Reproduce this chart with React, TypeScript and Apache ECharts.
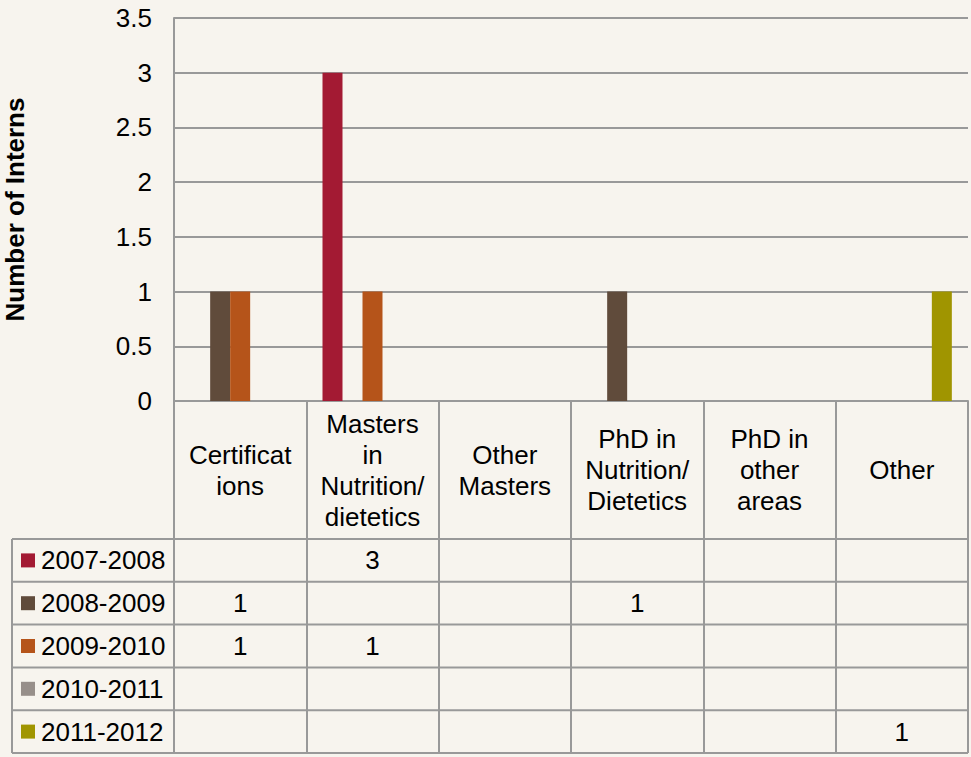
import React, { useEffect, useRef } from "react";
import * as echarts from "echarts";

const categories = [
  "Certificat\nions",
  "Masters\nin\nNutrition/\ndietetics",
  "Other\nMasters",
  "PhD in\nNutrition/\nDietetics",
  "PhD in\nother\nareas",
  "Other",
];
const seriesNames = ["2007-2008", "2008-2009", "2009-2010", "2010-2011", "2011-2012"];
const s2007 = [null, 3, null, null, null, null];
const s2008 = [1, null, null, 1, null, null];
const s2009 = [1, 1, null, null, null, null];
const s2010 = [null, null, null, null, null, null];
const s2011 = [null, null, null, null, null, 1];
const seriesValues = [s2007, s2008, s2009, s2010, s2011];
const colors = ["#A31A33", "#604B3B", "#B5541A", "#978F8A", "#A09500"];
const yTicks = [0, 0.5, 1, 1.5, 2, 2.5, 3, 3.5];

const FONT = "'Liberation Sans', Arial, sans-serif";
const BG = "#F7F4EE";
const LINE = "#999999";
const FS = 26;

export default function App() {
  const ref = useRef<HTMLDivElement>(null);
  useEffect(() => {
    if (!ref.current) return;
    const chart = echarts.init(ref.current, null, { renderer: "svg" });
    const W = 971;
    const gridLeft = 174;
    const gridRight = 3;
    const gridTop = 18;
    const axisY = 401;
    const headerBottom = 539;
    const tableBottom = 753;
    const rowH = (tableBottom - headerBottom) / seriesNames.length;
    const legendLeft = 12;

    chart.setOption({
      animation: false,
      backgroundColor: BG,
      textStyle: { fontFamily: FONT },
      grid: {
        left: gridLeft,
        right: gridRight,
        top: gridTop,
        bottom: 757 - axisY,
        containLabel: false,
        outerBoundsMode: "none",
      },
      xAxis: {
        type: "category",
        data: categories,
        boundaryGap: true,
        axisLine: { show: true, lineStyle: { color: LINE, width: 2 } },
        axisTick: { show: true, interval: 0, length: tableBottom - axisY, lineStyle: { color: LINE, width: 2 } },
        axisLabel: {
          interval: 0,
          fontSize: FS,
          lineHeight: 31,
          color: "#000",
          fontFamily: FONT,
          margin: 69,
          verticalAlign: "middle",
          align: "center",
        },
        splitLine: { show: false },
      },
      yAxis: {
        type: "value",
        min: 0,
        max: yTicks[yTicks.length - 1],
        interval: 0.5,
        name: "Number of Interns",
        nameLocation: "middle",
        nameGap: 146,
        nameTextStyle: { fontSize: FS, fontWeight: "bold", color: "#000", fontFamily: FONT },
        axisLine: { show: true, lineStyle: { color: LINE, width: 2 } },
        axisTick: { show: false },
        axisLabel: { fontSize: FS, color: "#000", margin: 22, fontFamily: FONT },
        splitLine: { show: true, lineStyle: { color: LINE, width: 2 } },
      },
      series: seriesNames.map((name, i) => ({
        name,
        type: "bar",
        data: seriesValues[i],
        barWidth: 20,
        barGap: "0%",
        itemStyle: { color: colors[i] },
      })),
    });

    const elements: any[] = [];
    for (let r = 0; r <= seriesNames.length; r++) {
      const y = headerBottom + r * rowH;
      elements.push({
        type: "line",
        shape: { x1: legendLeft, y1: y, x2: W - gridRight, y2: y },
        style: { stroke: LINE, lineWidth: 2 },
        z: 10,
      });
    }
    elements.push({
      type: "line",
      shape: { x1: legendLeft, y1: headerBottom, x2: legendLeft, y2: tableBottom },
      style: { stroke: LINE, lineWidth: 2 },
      z: 10,
    });
    seriesNames.forEach((name, r) => {
      const cy = headerBottom + r * rowH + rowH / 2;
      elements.push({
        type: "rect",
        shape: { x: 21, y: cy - 7, width: 14, height: 14 },
        style: { fill: colors[r] },
        z: 10,
      });
      elements.push({
        type: "text",
        x: 41,
        y: cy,
        style: { text: name, fontSize: FS, fontFamily: FONT, fill: "#000", textAlign: "left", textVerticalAlign: "middle" },
        z: 10,
      });
      seriesValues[r].forEach((v, c) => {
        if (v === null || v === undefined) return;
        const px = chart.convertToPixel({ xAxisIndex: 0 }, c) as number;
        elements.push({
          type: "text",
          x: px,
          y: cy,
          style: { text: String(v), fontSize: FS, fontFamily: FONT, fill: "#000", textAlign: "center", textVerticalAlign: "middle" },
          z: 10,
        });
      });
    });
    chart.setOption({ graphic: { elements } });

    return () => chart.dispose();
  }, []);
  return (
    <div
      ref={ref}
      style={{ position: "absolute", left: 0, top: 0, width: 971, height: 757, background: BG }}
    />
  );
}
